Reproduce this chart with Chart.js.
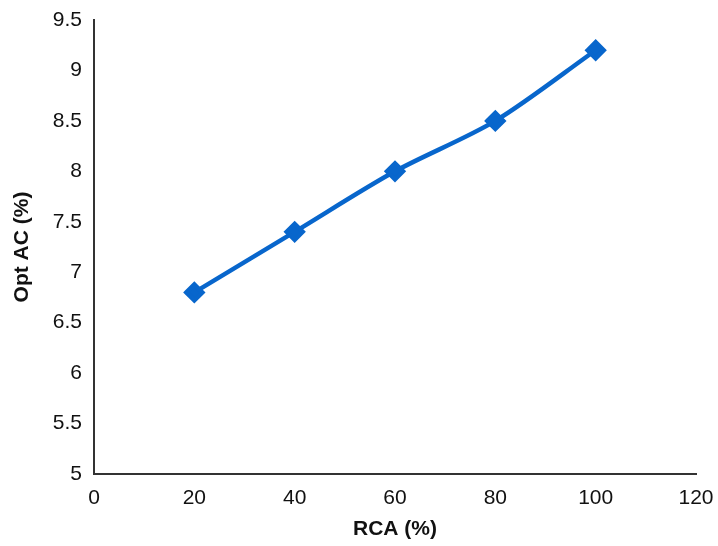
<!DOCTYPE html>
<html>
<head>
<meta charset="utf-8">
<script src="https://cdn.jsdelivr.net/npm/chart.js@4"></script>
<style>
  html, body { margin: 0; padding: 0; background: #fff; }
  #wrap { width: 718px; height: 546px; }
</style>
</head>
<body>
<div id="wrap"><canvas id="grafik" width="718" height="546"></canvas></div>
<script>
const rcaPersen = [20, 40, 60, 80, 100];
const optAC = [6.8, 7.4, 8.0, 8.5, 9.2];
const judulX = "RCA (%)";
const judulY = "Opt AC (%)";

const titik = rcaPersen.map((x, i) => ({ x: x, y: optAC[i] }));
const hurufTick = { family: "Liberation Sans", size: 21 };
const hurufJudul = { family: "Liberation Sans", size: 21, weight: "bold" };

const ctx = document.getElementById("grafik").getContext("2d");
new Chart(ctx, {
  type: "line",
  data: {
    datasets: [{
      data: titik,
      borderColor: "#0866cc",
      backgroundColor: "#0866cc",
      borderWidth: 4.5,
      tension: 0.3,
      pointStyle: "rectRot",
      pointRadius: 8,
      pointHoverRadius: 8
    }]
  },
  options: {
    responsive: false,
    animation: false,
    layout: { padding: { top: 20, right: 0, left: 0, bottom: 0 } },
    plugins: { legend: { display: false }, tooltip: { enabled: false } },
    scales: {
      x: {
        type: "linear",
        min: 0, max: 120,
        ticks: { stepSize: 20, color: "#111", padding: 12, font: hurufTick },
        grid: { display: false, drawTicks: false },
        border: { color: "#333", width: 2 },
        title: { display: true, text: judulX, color: "#111", padding: { top: 6 }, font: hurufJudul },
        afterFit: s => { s.height = 72; s.paddingRight = 22; s.paddingLeft = 0; }
      },
      y: {
        min: 5, max: 9.5,
        ticks: { stepSize: 0.5, color: "#111", padding: 12, font: hurufTick, callback: v => String(v) },
        grid: { display: false, drawTicks: false },
        border: { color: "#333", width: 2 },
        title: { display: true, text: judulY, color: "#111", padding: { top: 10, bottom: 4 }, font: hurufJudul },
        afterFit: s => { s.width = 94; s.paddingTop = 0; s.paddingBottom = 0; }
      }
    }
  }
});
</script>
</body>
</html>
